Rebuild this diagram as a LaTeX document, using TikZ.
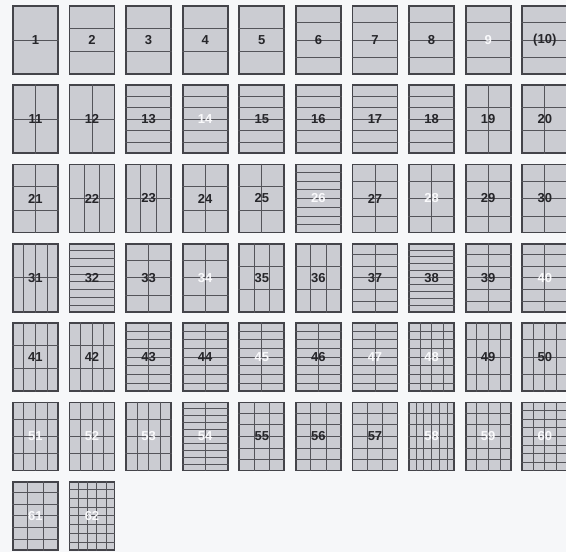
\documentclass[tikz,border=0pt]{standalone}
\usepackage{fontspec}
\setmainfont{Liberation Sans}
\usetikzlibrary{calc}
\definecolor{paper}{RGB}{246,247,249}
\definecolor{sheetfill}{RGB}{203,204,210}
\definecolor{sheetedge}{RGB}{68,68,74}
\definecolor{foldline}{RGB}{84,84,90}
\definecolor{numdark}{RGB}{38,38,42}
\definecolor{numlight}{RGB}{250,250,252}
\begin{document}
\begin{tikzpicture}[x=1pt,y=-1pt,line width=0.6pt,
  every node/.style={font=\bfseries\fontsize{13}{13}\selectfont,inner sep=0pt},
  sheet/.style={rectangle,draw=sheetedge,fill=sheetfill,line width=1.8pt,minimum width=45pt,minimum height=68pt,anchor=north west},
  fold/.style={draw=foldline,line width=0.75pt}]
\useasboundingbox[fill=paper] (0,0) rectangle (566,552);
\foreach \n/\lab/\nc/\nr/\tc in {
  1/1/1/2/numdark, 2/2/1/3/numdark, 3/3/1/3/numdark, 4/4/1/3/numdark, 5/5/1/3/numdark,
  6/6/1/4/numdark, 7/7/1/4/numdark, 8/8/1/4/numdark, 9/9/1/4/numlight, 10/(10)/1/4/numdark,
  11/11/2/2/numdark, 12/12/2/2/numdark, 13/13/1/6/numdark, 14/14/1/6/numlight, 15/15/1/6/numdark,
  16/16/1/6/numdark, 17/17/1/6/numdark, 18/18/1/6/numdark, 19/19/2/3/numdark, 20/20/2/3/numdark,
  21/21/2/3/numdark, 22/22/3/2/numdark, 23/23/3/2/numdark, 24/24/2/3/numdark, 25/25/2/3/numdark,
  26/26/1/8/numlight, 27/27/2/4/numdark, 28/28/2/4/numlight, 29/29/2/4/numdark, 30/30/2/4/numdark,
  31/31/4/2/numdark, 32/32/1/9/numdark, 33/33/2/4/numdark, 34/34/2/4/numlight, 35/35/3/3/numdark,
  36/36/3/3/numdark, 37/37/2/6/numdark, 38/38/1/10/numdark, 39/39/2/6/numdark, 40/40/2/6/numlight,
  41/41/4/3/numdark, 42/42/4/3/numdark, 43/43/2/8/numdark, 44/44/2/8/numdark, 45/45/2/8/numlight,
  46/46/2/8/numdark, 47/47/2/8/numlight, 48/48/4/8/numlight, 49/49/4/4/numdark, 50/50/4/4/numdark,
  51/51/4/4/numlight, 52/52/4/4/numlight, 53/53/4/4/numlight, 54/54/2/10/numlight, 55/55/3/6/numdark,
  56/56/3/6/numdark, 57/57/3/6/numdark, 58/58/6/6/numlight, 59/59/4/6/numlight, 60/60/4/8/numlight,
  61/61/3/6/numlight, 62/62/5/8/numlight}{
  \pgfmathtruncatemacro\col{mod(\n-1,10)}
  \pgfmathtruncatemacro\row{div(\n-1,10)}
  \pgfmathtruncatemacro\lastc{\nc-1}
  \pgfmathtruncatemacro\lastr{\nr-1}
  \node[sheet] (s\n) at ({12+56.6*\col},{5+79.3*\row}) {};
  \ifnum\nc>1
    \foreach \i in {1,...,\lastc}
      \draw[fold] ($(s\n.north west)!\i/\nc!(s\n.north east)$) -- ($(s\n.south west)!\i/\nc!(s\n.south east)$);
  \fi
  \ifnum\nr>1
    \foreach \j in {1,...,\lastr}
      \draw[fold] ($(s\n.north west)!\j/\nr!(s\n.south west)$) -- ($(s\n.north east)!\j/\nr!(s\n.south east)$);
  \fi
  \node[text=\tc] (t\n) at (s\n.center) {\lab};
}
\end{tikzpicture}
\end{document}
